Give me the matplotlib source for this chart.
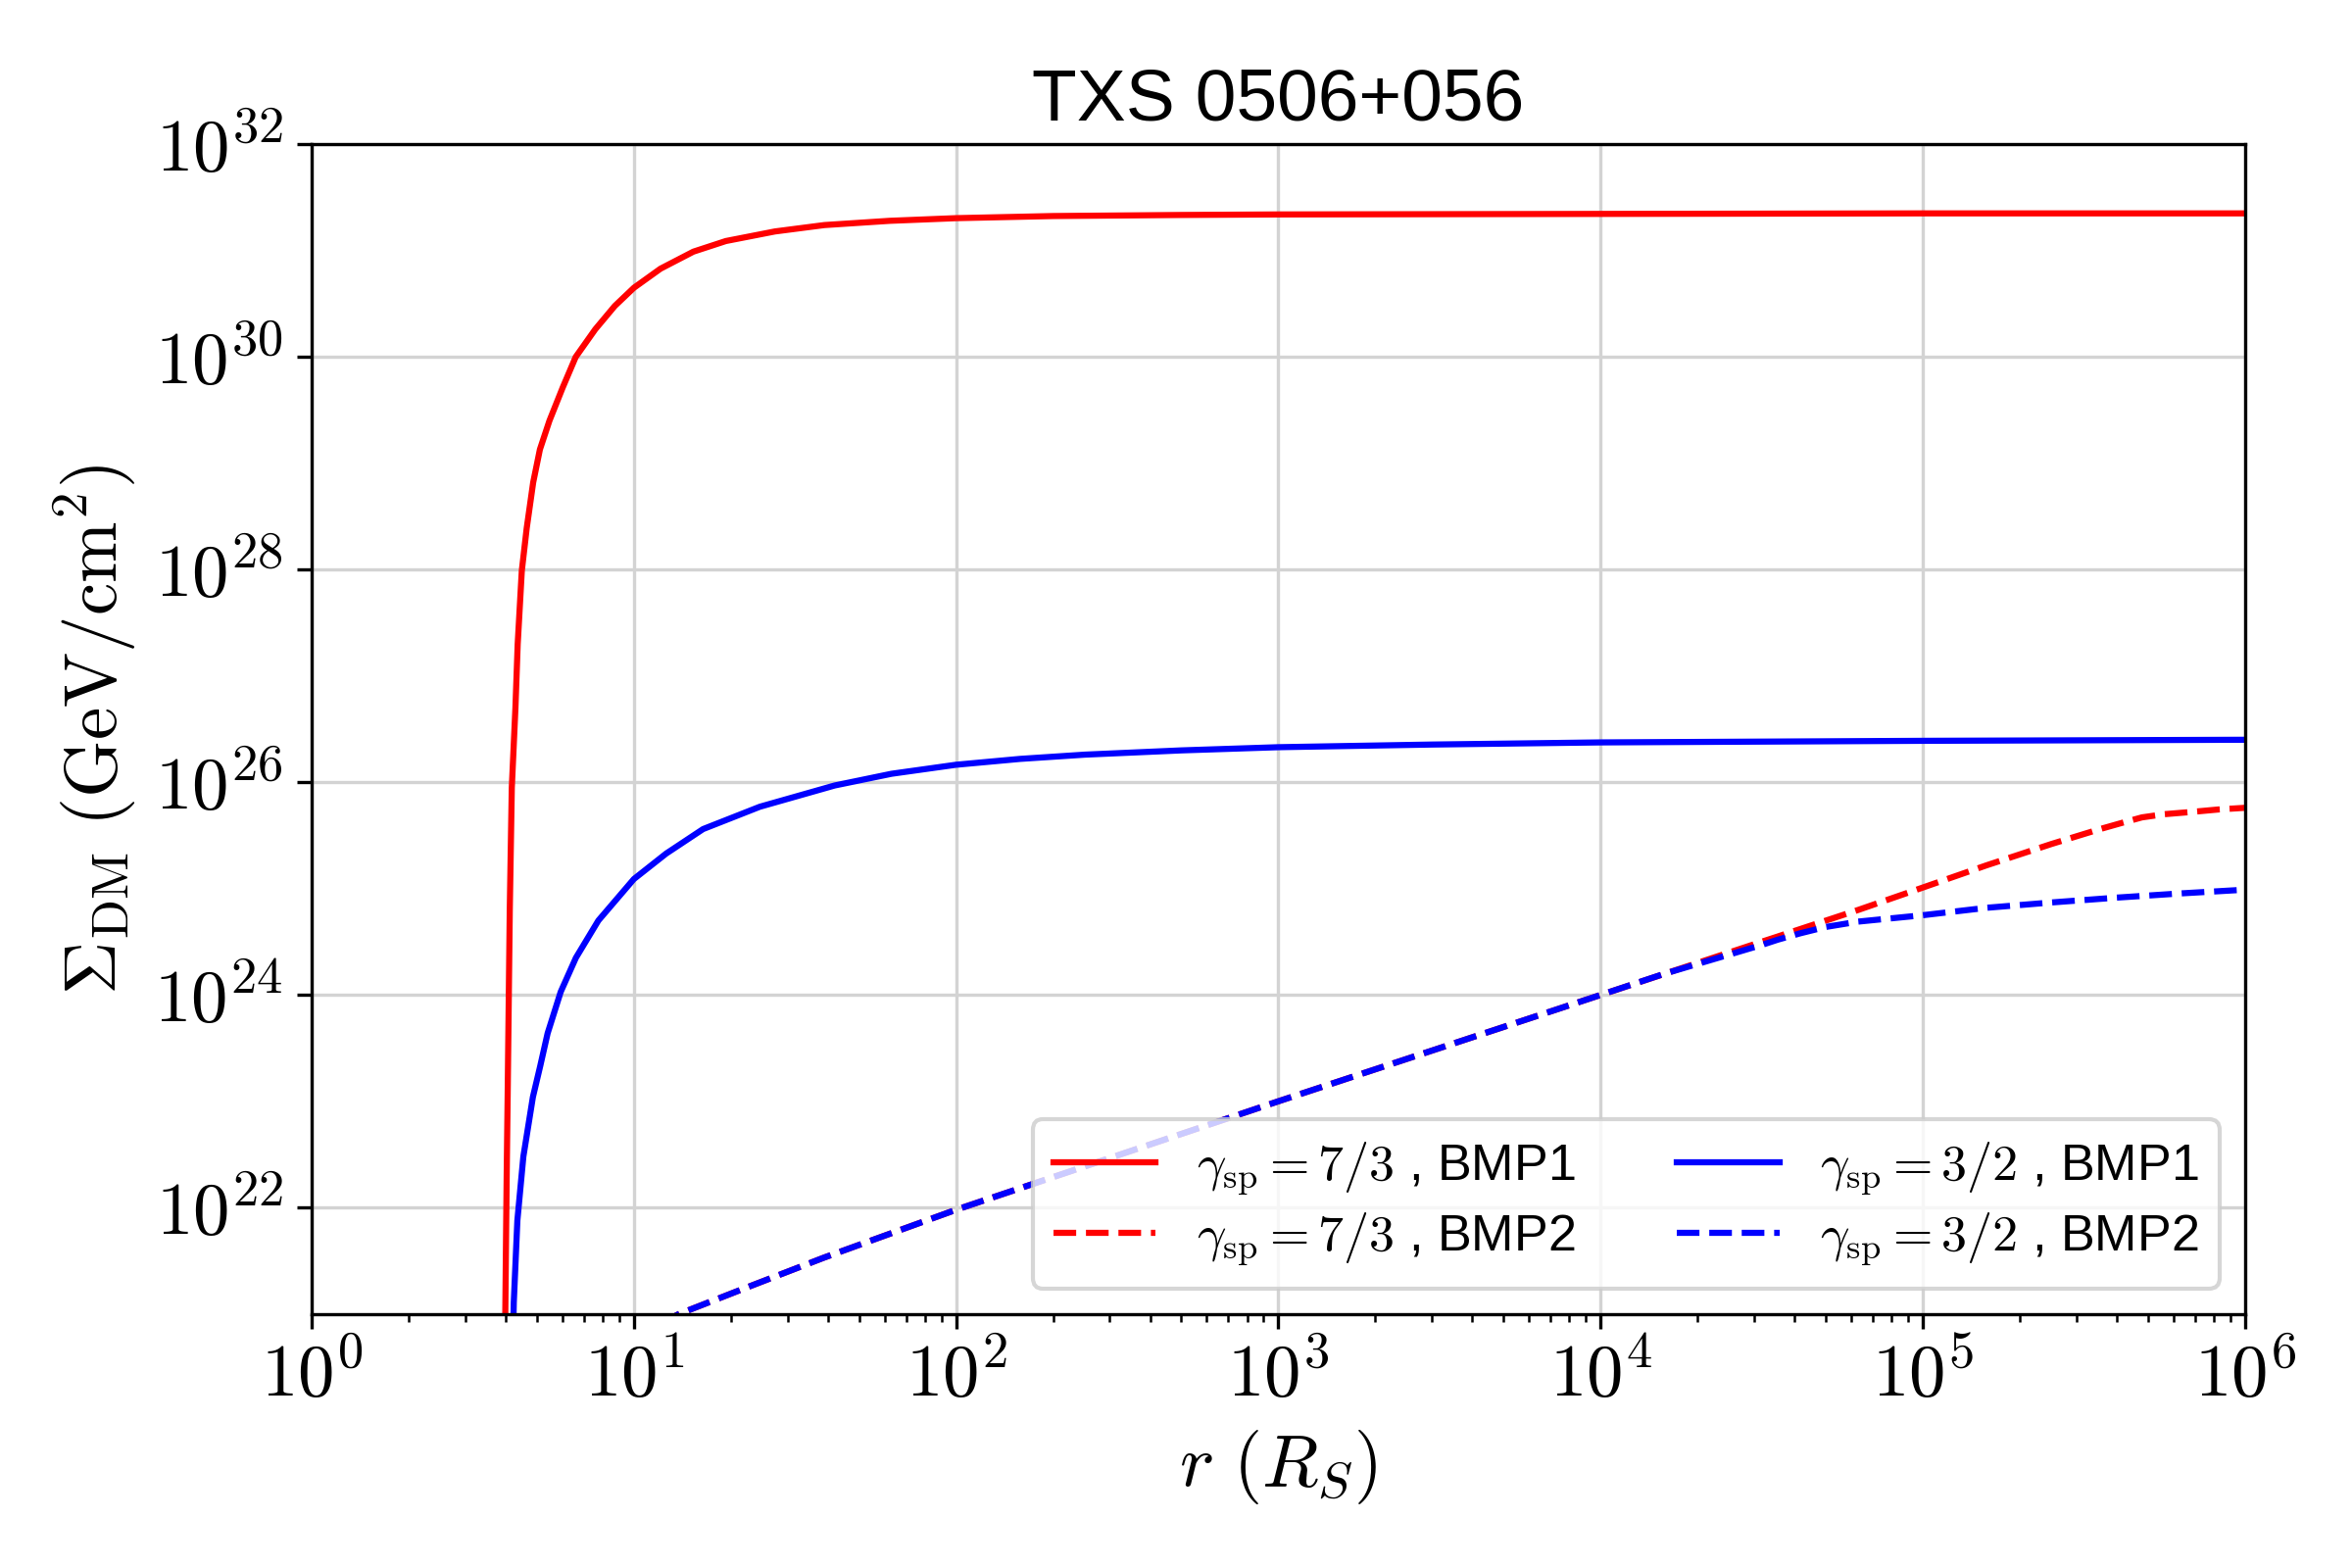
import numpy as np
import matplotlib
matplotlib.use("Agg")
import matplotlib.pyplot as plt
from matplotlib.ticker import FuncFormatter, LogLocator, NullLocator

plt.rcParams['font.family'] = ['Liberation Sans', 'DejaVu Sans']
plt.rcParams['mathtext.fontset'] = 'cm'

# values (r in R_S, log10 of Sigma_DM)
r_red_bmp1 = [3.97, 3.99, 4.03, 4.06, 4.12, 4.18, 4.29, 4.36, 4.49, 4.65, 4.87,
              5.11, 5.47, 6.01, 6.6, 7.59, 8.73, 10.0, 12.1, 15.3, 19.3, 27.4,
              39.0, 62.2, 100.0, 200.0, 500.0, 1e3, 1e4, 1e5, 1e6]
lg_red_bmp1 = [20.5, 21.0, 22.3, 23.1, 24.8, 25.95, 26.7, 27.3, 27.99, 28.39, 28.82,
               29.13, 29.40, 29.71, 30.0, 30.26, 30.48, 30.65, 30.83, 30.99, 31.09,
               31.18, 31.24, 31.28, 31.305, 31.325, 31.335, 31.34, 31.345, 31.35,
               31.35]

r_blue_bmp1 = [4.22, 4.24, 4.35, 4.54, 4.86, 5.12, 5.40, 5.93, 6.61, 7.76, 10.0,
               12.6, 16.4, 24.6, 42.0, 63.0, 100.0, 158.0, 251.0, 500.0, 1e3,
               3e3, 1e4, 1e5, 1e6]
lg_blue_bmp1 = [20.8, 21.11, 21.88, 22.48, 23.04, 23.33, 23.64, 24.03, 24.35, 24.70,
                25.09, 25.33, 25.56, 25.77, 25.97, 26.08, 26.165, 26.22, 26.26,
                26.30, 26.33, 26.355, 26.375, 26.39, 26.40]

r_red_bmp2 = [12.0, 13.8, 22.0, 38.9, 100.0, 1e3, 1e4, 3.16e4, 3.55e4, 3.98e4,
              6.31e4, 1e5, 1.58e5, 2.51e5, 3.55e5, 4.17e5, 4.79e5, 5.62e5, 6.76e5,
              8.32e5, 1e6]
lg_red_bmp2 = [20.9, 21.0, 21.24, 21.53, 21.98, 23.0, 24.0, 24.50, 24.55, 24.60,
               24.80, 25.01, 25.22, 25.42, 25.56, 25.62, 25.67, 25.70, 25.72,
               25.745, 25.76]

r_blue_bmp2 = [12.0, 13.8, 22.0, 38.9, 100.0, 1e3, 1e4, 1.58e4, 2.51e4, 3.16e4,
               3.55e4, 4.17e4, 5.01e4, 6.31e4, 1e5, 1.58e5, 2.51e5, 3.98e5,
               6.31e5, 1e6]
lg_blue_bmp2 = [20.9, 21.0, 21.24, 21.53, 21.98, 23.0, 24.0, 24.2, 24.38, 24.47,
                24.52, 24.58, 24.64, 24.69, 24.75, 24.82, 24.87, 24.915, 24.955,
                24.99]

labels = [r'$\gamma_{\rm sp} = 7/3$ , BMP1', r'$\gamma_{\rm sp} = 7/3$ , BMP2',
          r'$\gamma_{\rm sp} = 3/2$ , BMP1', r'$\gamma_{\rm sp} = 3/2$ , BMP2']

fig = plt.figure(figsize=(8, 16 / 3), dpi=300)
ax = fig.add_axes([0.1325, 0.162, 0.822, 0.746])

ax.plot(r_red_bmp1, 10.0 ** np.array(lg_red_bmp1), color='red', lw=1.5, label=labels[0])
ax.plot(r_red_bmp2, 10.0 ** np.array(lg_red_bmp2), color='red', lw=1.5, ls='--', label=labels[1])
ax.plot(r_blue_bmp1, 10.0 ** np.array(lg_blue_bmp1), color='blue', lw=1.5, label=labels[2])
ax.plot(r_blue_bmp2, 10.0 ** np.array(lg_blue_bmp2), color='blue', lw=1.5, ls='--', label=labels[3])

ax.set_xscale('log')
ax.set_yscale('log')
ax.set_xlim(1, 1e6)
ax.set_ylim(1e21, 1e32)

# ticks in computer modern, like the reference
pow_fmt = FuncFormatter(lambda v, pos: r'$10^{%d}$' % round(np.log10(v)))
ax.xaxis.set_major_formatter(pow_fmt)
ax.yaxis.set_major_locator(LogLocator(base=100.0))
ax.yaxis.set_major_formatter(pow_fmt)
ax.yaxis.set_minor_locator(NullLocator())
ax.tick_params(labelsize=18)

ax.grid(True, which='major', color='lightgray', lw=0.8)

ax.set_xlabel(r'$r\ (R_S)$', fontsize=18)
ax.set_ylabel(r'$\Sigma_{\rm DM}\ ({\rm GeV/cm^2})$', fontsize=18)
ax.set_title('TXS 0506+056', fontsize=18)

ax.legend(loc='lower right', ncol=2, fontsize=12.5, labelspacing=0.25)

fig.savefig('out.png', dpi=300)
